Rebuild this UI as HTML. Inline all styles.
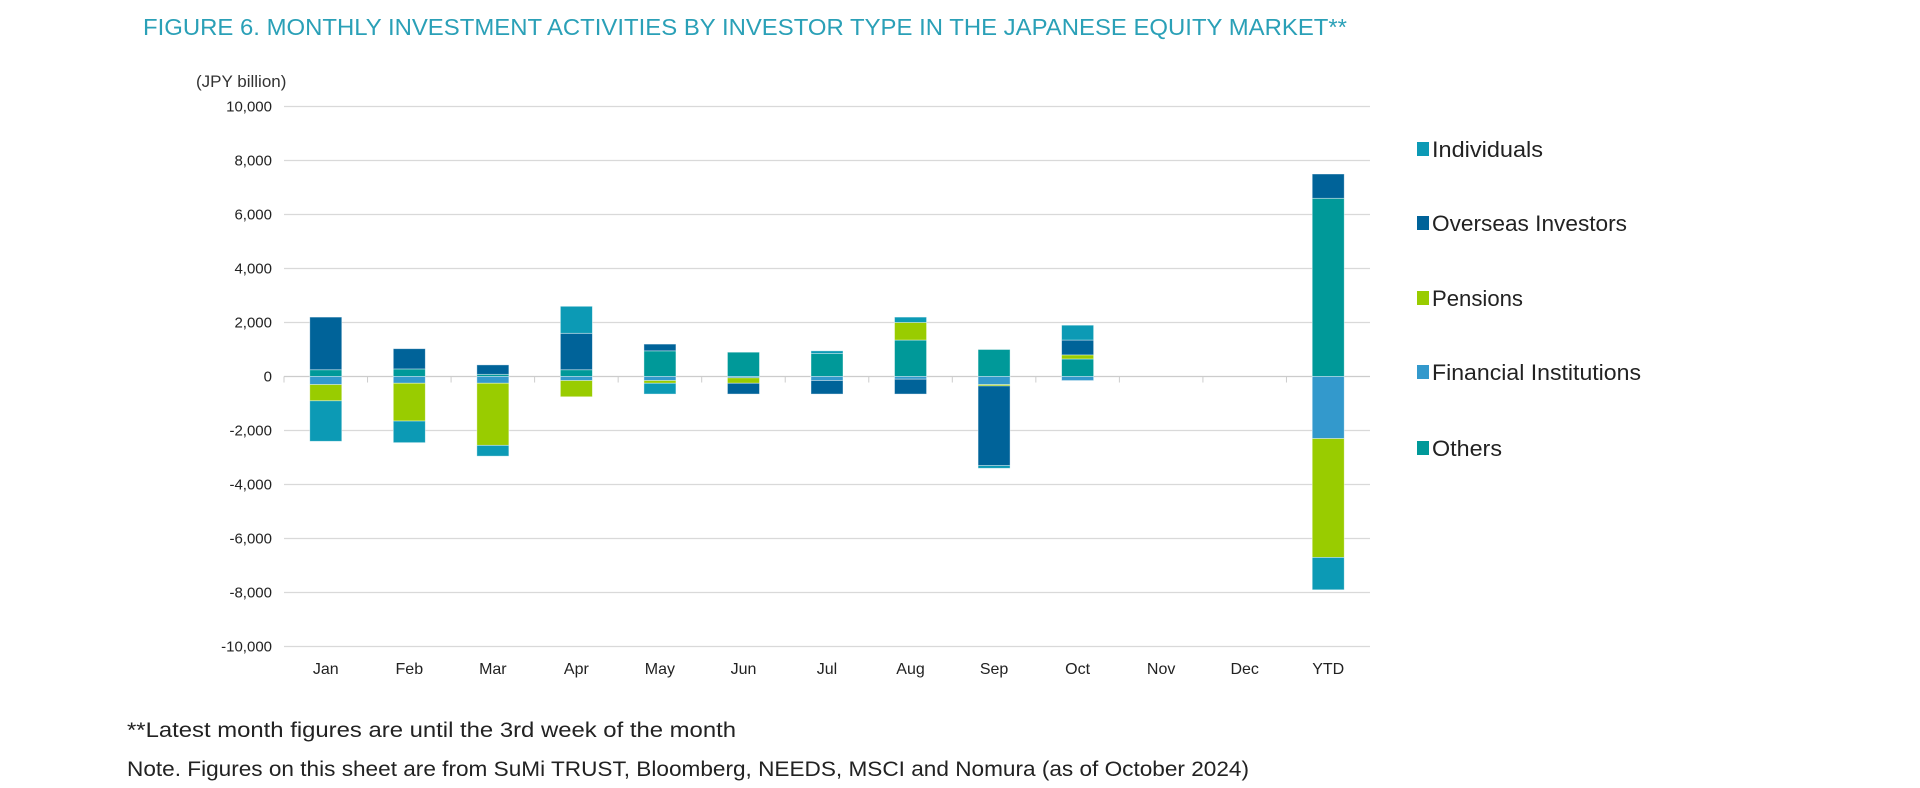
<!DOCTYPE html>
<html><head><meta charset="utf-8"><style>
body{margin:0;background:#fff;width:1920px;height:783px;overflow:hidden;font-family:"Liberation Sans",sans-serif}
</style></head><body>
<svg width="1920" height="783">
<text x="143" y="35" font-size="23" fill="#2aa0b7" textLength="1204" lengthAdjust="spacingAndGlyphs">FIGURE 6. MONTHLY INVESTMENT ACTIVITIES BY INVESTOR TYPE IN THE JAPANESE EQUITY MARKET**</text>
<text x="196" y="87" font-size="17" fill="#333">(JPY billion)</text>
<g id="grid"></g><g id="bars"></g><g id="axis"></g><g id="legend"></g>
<text x="127" y="737" font-size="21" fill="#222" textLength="609" lengthAdjust="spacingAndGlyphs">**Latest month figures are until the 3rd week of the month</text>
<text x="127" y="776" font-size="21" fill="#222" textLength="1122" lengthAdjust="spacingAndGlyphs">Note. Figures on this sheet are from SuMi TRUST, Bloomberg, NEEDS, MSCI and Nomura (as of October 2024)</text>
</svg>
<script>
const categories=["Jan","Feb","Mar","Apr","May","Jun","Jul","Aug","Sep","Oct","Nov","Dec","YTD"];
const seriesNames=["Individuals","Overseas Investors","Pensions","Financial Institutions","Others"];
const individuals=[-1500,-800,-400,1000,-400,0,100,200,-100,550,0,0,-1200];
const overseas=[1950,750,350,1350,250,-400,-500,-550,-2950,550,0,0,900];
const pensions=[-600,-1400,-2300,-600,-100,-200,0,650,-50,150,0,0,-4400];
const finInst=[-300,-250,-250,-150,-150,-50,-150,-100,-300,-150,0,0,-2300];
const others=[250,280,80,250,950,900,850,1350,1000,650,0,0,6600];
const yTicks=[10000,8000,6000,4000,2000,0,-2000,-4000,-6000,-8000,-10000];
const legendWidths=[111,195,91,209,70];
const colors=["#0c9ab5","#006399","#99cc00","#3399cc","#009999"];
const NS="http://www.w3.org/2000/svg";
const X0=284,X1=1370,Y0=376.5,PX=0.027;
const bw=(X1-X0)/categories.length;
const y=v=>Y0-v*PX;
const xc=i=>X0+bw*(i+0.5);
function mk(t,a,p){const e=document.createElementNS(NS,t);for(const k in a)e.setAttribute(k,a[k]);p.appendChild(e);return e;}
const grid=document.getElementById('grid'),axis=document.getElementById('axis'),bars=document.getElementById('bars'),leg=document.getElementById('legend');
yTicks.forEach(t=>{
 const l=mk('line',{x1:X0,x2:X1,y1:y(t),y2:y(t),stroke:t===0?'#ccc':'#d9d9d9','stroke-width':1.3},grid);
 
 
 const tx=mk('text',{x:X0-12,y:y(t)+5,'text-anchor':'end','font-size':15,fill:'#222'},axis);
 tx.textContent=t.toLocaleString('en-US');
 
 
});
categories.forEach((c,i)=>{
 const tk=mk('line',{x1:X0+bw*i,x2:X0+bw*i,y1:Y0,y2:Y0+6,stroke:'#ccc'},axis);
 
 
 const tx=mk('text',{x:xc(i),y:674,'text-anchor':'middle','font-size':16,fill:'#222'},axis);
 tx.textContent=c;
 
 
});
const series=[individuals,overseas,pensions,finInst,others];
const order=[4,3,2,1,0];
categories.forEach((c,i)=>{
 let pos=0,neg=0;
 order.forEach(s=>{
  const v=series[s][i]; if(!v)return;
  let a,b; if(v>0){a=pos;b=pos+v;pos=b;}else{a=neg;b=neg+v;neg=b;}
  const r=mk('rect',{x:xc(i)-16,width:32,y:Math.min(y(a),y(b)),height:Math.abs(y(a)-y(b)),fill:colors[s],stroke:'#fff','stroke-opacity':0.5,'stroke-width':0.8},bars);
  
  
 });
});
const ly=[155,229,304,378,454];
seriesNames.forEach((n,k)=>{
 const r=mk('rect',{x:1417,y:ly[k]-13,width:12,height:14,fill:colors[k]},leg);
 
 
 const t=mk('text',{x:1432,y:ly[k]+2,'font-size':22,fill:'#222',textLength:legendWidths[k],lengthAdjust:'spacingAndGlyphs'},leg);
 t.textContent=n;
 
 
});
</script>
</body></html>
